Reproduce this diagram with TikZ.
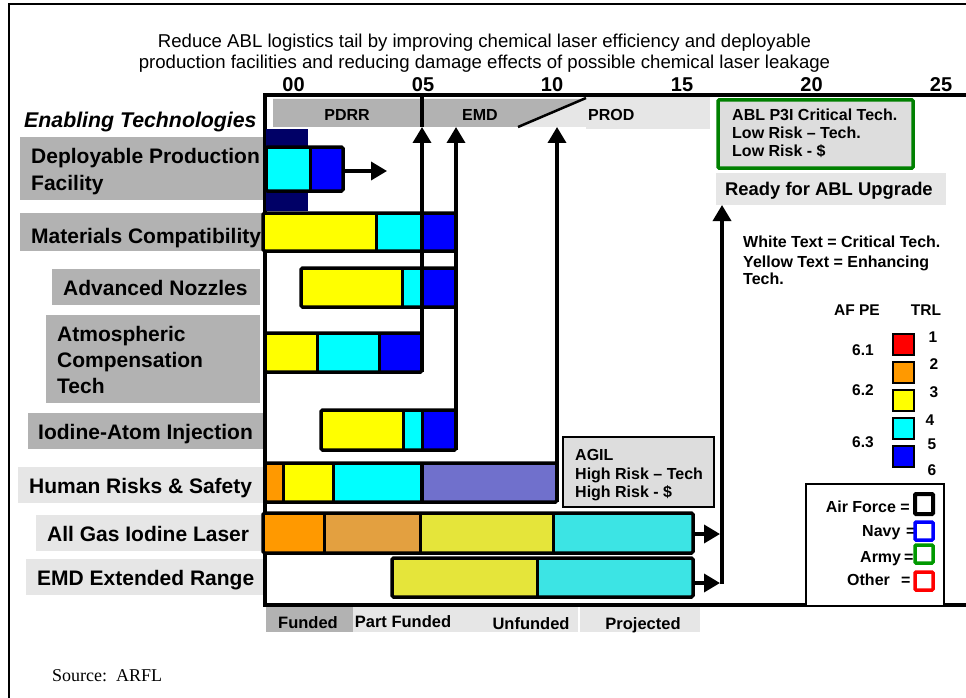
\documentclass[tikz,border=0pt]{standalone}
\usepackage{fontspec}
\setmainfont{Liberation Sans}
\newfontfamily\srcfont{Liberation Serif}
\usetikzlibrary{arrows.meta}
\definecolor{dgray}{HTML}{B2B2B2}
\definecolor{lgray}{HTML}{E6E6E6}
\definecolor{bgray}{HTML}{DDDDDD}
\definecolor{navyb}{HTML}{000066}
\definecolor{cyanb}{HTML}{00FFFF}
\definecolor{blueb}{HTML}{0000FF}
\definecolor{yellowb}{HTML}{FFFF00}
\definecolor{orangeb}{HTML}{FF9900}
\definecolor{purpleb}{HTML}{7070CC}
\definecolor{tanb}{HTML}{E3A040}
\definecolor{oliveb}{HTML}{E5E53A}
\definecolor{tealb}{HTML}{3CE4E4}
\definecolor{greenb}{HTML}{008000}
\newcommand\myfs[1]{\fontsize{#1}{#1}\selectfont}
\begin{document}
\begin{tikzpicture}[x=1pt,y=-1pt,
  lab/.style={inner sep=0pt, anchor=base west, font=\bfseries\myfs{21}},
  yr/.style={inner sep=0pt, anchor=base, font=\bfseries\myfs{20}},
  sm/.style={inner sep=0pt, anchor=base west, font=\bfseries\myfs{16}},
  smc/.style={inner sep=0pt, anchor=base, font=\bfseries\myfs{16}},
  leg/.style={inner sep=0pt, anchor=base, font=\bfseries\myfs{15.5}},
  legw/.style={inner sep=0pt, anchor=base west, font=\bfseries\myfs{16}},
  lege/.style={inner sep=0pt, anchor=base east, font=\bfseries\myfs{16}},
  barbox/.style={draw, line width=3.5pt, rounded corners=1.5pt},
  divline/.style={line width=3pt},
  arr/.style={line width=3.5pt, -{Triangle[length=16pt,width=18pt]}},
  chartline/.style={line width=4pt},
  trlsq/.style={draw, line width=2pt},
  svcsq/.style={line width=3.5pt, rounded corners=1pt}
]
\useasboundingbox (0,0) rectangle (966,698);
% outer frame
\draw[line width=2.5pt] (9,698) -- (9,4) -- (966,4);
% title
\node[inner sep=0pt, anchor=base, font=\myfs{18.6}] (t1) at (484.5,48) {Reduce ABL logistics tail by improving chemical laser efficiency and deployable};
\node[inner sep=0pt, anchor=base, font=\myfs{18.6}] (t2) at (484.5,69) {production facilities and reducing damage effects of possible chemical laser leakage};
% years
\node[yr] (y00) at (293.5,92) {00};
\node[yr] (y05) at (423,92) {05};
\node[yr] (y10) at (552,92) {10};
\node[yr] (y15) at (682,92) {15};
\node[yr] (y20) at (811.5,92) {20};
\node[yr] (y25) at (941,92) {25};
% enabling technologies
\node[inner sep=0pt, anchor=base west, font=\bfseries\itshape\myfs{21.3}] (et) at (24,128) {Enabling Technologies};
% label boxes
\fill[dgray] (20,137) rectangle (265,200);
\fill[dgray] (20,213) rectangle (265,251);
\fill[dgray] (52,269) rectangle (260,305);
\fill[dgray] (46,315) rectangle (260,403);
\fill[dgray] (28,413) rectangle (263,449);
\fill[lgray] (18,467) rectangle (265,503);
\fill[lgray] (36,515) rectangle (263,551);
\fill[lgray] (26,559) rectangle (263,595);
\node[lab] (l1a) at (31,163) {Deployable Production};
\node[lab] (l1b) at (31,190) {Facility};
\node[lab] (l2) at (31,243) {Materials Compatibility};
\node[lab] (l3) at (63,295) {Advanced Nozzles};
\node[lab] (l4a) at (57,341) {Atmospheric};
\node[lab] (l4b) at (57,367) {Compensation};
\node[lab] (l4c) at (57,393) {Tech};
\node[lab] (l5) at (38,439) {Iodine-Atom Injection};
\node[lab] (l6) at (29,493) {Human Risks \& Safety};
\node[lab] (l7) at (47,541) {All Gas Iodine Laser};
\node[lab] (l8) at (37,585) {EMD Extended Range};
% phase bar
\fill[dgray] (273,99) -- (586,99) -- (518,127) -- (273,127) -- cycle;
\fill[lgray] (518,127) -- (586,99) -- (586,127) -- cycle;
\fill[lgray] (586,97) rectangle (710,129);
\draw[line width=2.5pt] (518,127) -- (586,98);
\node[smc] (pdrr) at (347,121) {PDRR};
\node[smc] (emd) at (480,121) {EMD};
\node[sm] (prod) at (588,121) {PROD};
% chart frame
\draw[chartline] (966,95) -- (265,95) -- (265,605) -- (966,605);
% row 1
\fill[navyb] (266,129) rectangle (308,211);
\fill[cyanb] (266,147) rectangle (310,191);
\fill[blueb] (310,147) rectangle (343,191);
\draw[divline] (310,147) -- (310,191);
\draw[barbox] (266,147) rectangle (343,191);
% row 2
\fill[yellowb] (263,213) rectangle (376,251);
\fill[cyanb] (376,213) rectangle (422,251);
\fill[blueb] (422,213) rectangle (456,251);
\draw[divline] (376,213) -- (376,251);
\draw[barbox] (263,213) rectangle (456,251);
% row 3
\fill[yellowb] (301,268) rectangle (402,307);
\fill[cyanb] (402,268) rectangle (422,307);
\fill[blueb] (422,268) rectangle (456,307);
\draw[divline] (402,268) -- (402,307);
\draw[barbox] (301,268) rectangle (456,307);
% row 4
\fill[yellowb] (265,333) rectangle (317,372);
\fill[cyanb] (317,333) rectangle (379,372);
\fill[blueb] (379,333) rectangle (422,372);
\draw[divline] (317,333) -- (317,372);
\draw[divline] (379,333) -- (379,372);
\draw[barbox] (265,333) rectangle (422,372);
% row 5
\fill[yellowb] (321,410) rectangle (403,450);
\fill[cyanb] (403,410) rectangle (422,450);
\fill[blueb] (422,410) rectangle (456,450);
\draw[divline] (403,410) -- (403,450);
\draw[divline] (422,410) -- (422,450);
\draw[barbox] (321,410) rectangle (456,450);
% row 6
\fill[orangeb] (265,463) rectangle (283,502);
\fill[yellowb] (283,463) rectangle (333,502);
\fill[cyanb] (333,463) rectangle (422,502);
\fill[purpleb] (422,463) rectangle (557,502);
\draw[divline] (283,463) -- (283,502);
\draw[divline] (333,463) -- (333,502);
\draw[line width=3.5pt] (422,463) -- (422,502);
\draw[barbox] (265,463) rectangle (557,502);
% row 7
\fill[orangeb] (263,513) rectangle (324,553);
\fill[tanb] (324,513) rectangle (420,553);
\fill[oliveb] (420,513) rectangle (553,553);
\fill[tealb] (553,513) rectangle (693,553);
\draw[divline] (324,513) -- (324,553);
\draw[divline] (420,513) -- (420,553);
\draw[divline] (553,513) -- (553,553);
\draw[barbox] (263,513) rectangle (693,553);
% row 8
\fill[oliveb] (392,558) rectangle (537,597);
\fill[tealb] (537,558) rectangle (693,597);
\draw[divline] (537,558) -- (537,597);
\draw[barbox] (392,558) rectangle (693,597);
% connectors
\coordinate (r1e) at (343,171);
\coordinate (r1t) at (387,171);
\draw[arr] (r1e) -- (r1t);
\coordinate (v05top) at (422,95);
\coordinate (v05tip) at (422,127);
\coordinate (v05bot) at (422,372);
\draw[line width=3.5pt] (v05top) -- (v05tip);
\draw[arr] (v05bot) -- (v05tip);
\coordinate (v456bot) at (456,450);
\coordinate (v456tip) at (456,127);
\draw[arr] (v456bot) -- (v456tip);
\coordinate (v557bot) at (557,502);
\coordinate (v557tip) at (557,127);
\draw[arr] (v557bot) -- (v557tip);
\coordinate (r7e) at (693,534);
\coordinate (r7t) at (720,534);
\draw[arr] (r7e) -- (r7t);
\coordinate (r8e) at (693,583);
\coordinate (r8t) at (720,583);
\draw[arr] (r8e) -- (r8t);
% funding row
\fill[dgray] (266,607) rectangle (353,632);
\fill[lgray] (353,607) rectangle (578,632);
\fill[lgray] (580,607) rectangle (700,632);
\node[inner sep=0pt, anchor=base, font=\bfseries\myfs{16.5}] (fund) at (308,628) {Funded};
\node[inner sep=0pt, anchor=base, font=\bfseries\myfs{16.5}] (pfund) at (403,627) {Part Funded};
\node[inner sep=0pt, anchor=base, font=\bfseries\myfs{16.5}] (ufund) at (531,629) {Unfunded};
\node[inner sep=0pt, anchor=base, font=\bfseries\myfs{16.5}] (proj) at (643,629) {Projected};
% green box
\draw[greenb, fill=bgray, line width=3.5pt, rounded corners=1pt] (718,100) rectangle (913,168);
\node[sm] (g1) at (732,121) {ABL P3I Critical Tech.};
\node[sm] (g2) at (732,139) {Low Risk -- Tech.};
\node[sm] (g3) at (732,157) {Low Risk - \$};
% ready box
\fill[lgray] (716,173) rectangle (946,205);
\node[inner sep=0pt, anchor=base west, font=\bfseries\myfs{18.4}] (ready) at (725,195) {Ready for ABL Upgrade};
\coordinate (v722bot) at (722,584);
\coordinate (v722tip) at (722,205);
\draw[arr] (v722bot) -- (v722tip);
% legend text
\node[legw] (w1) at (743,247) {White Text = Critical Tech.};
\node[legw] (w2) at (743,267) {Yellow Text = Enhancing};
\node[legw] (w3) at (743,284) {Tech.};
\node[leg] (afpe) at (857,315) {AF PE};
\node[leg] (trl) at (926,315) {TRL};
\node[leg] (p61) at (863,355) {6.1};
\node[leg] (p62) at (863,395) {6.2};
\node[leg] (p63) at (863,447) {6.3};
\draw[trlsq, fill=red] (893,334) rectangle (914,355);
\draw[trlsq, fill=orangeb] (893,362) rectangle (914,383);
\draw[trlsq, fill=yellowb] (893,390) rectangle (914,411);
\draw[trlsq, fill=cyanb] (893,418) rectangle (914,439);
\draw[trlsq, fill=blueb] (893,446) rectangle (914,467);
\node[leg] (n1) at (933,342) {1};
\node[leg] (n2) at (934,369) {2};
\node[leg] (n3) at (934,397) {3};
\node[leg] (n4) at (930,425) {4};
\node[leg] (n5) at (932,449) {5};
\node[leg] (n6) at (932,475) {6};
% AGIL box
\draw[fill=bgray, line width=1.5pt] (563,437) rectangle (714,507);
\node[sm] (a1) at (575,460) {AGIL};
\node[sm] (a2) at (575,479) {High Risk -- Tech};
\node[sm] (a3) at (575,497) {High Risk - \$};
% service legend
\draw[fill=white, line width=2pt] (806,605) -- (806,484) -- (944,484) -- (944,605);
\node[lege] (af) at (910,512) {Air Force =};
\node[legw] (nv) at (862,536) {Navy};
\node[legw] (nveq) at (906,536) {=};
\node[legw] (ar) at (860,562) {Army};
\node[legw] (areq) at (904,562) {=};
\node[legw] (ot) at (847,585) {Other};
\node[legw] (oteq) at (901,585) {=};
\draw[svcsq, draw=black, line width=4pt] (915,494) rectangle (933,514);
\draw[svcsq, draw=blueb] (915,522) rectangle (933,540);
\draw[svcsq, draw=green!60!black] (915,545) rectangle (933,563);
\draw[svcsq, draw=red] (915,572) rectangle (933,590);
% source
\node[inner sep=0pt, anchor=base west, font=\srcfont\myfs{18}] (src) at (52,681) {Source:\ \ ARFL};
\end{tikzpicture}
\end{document}
